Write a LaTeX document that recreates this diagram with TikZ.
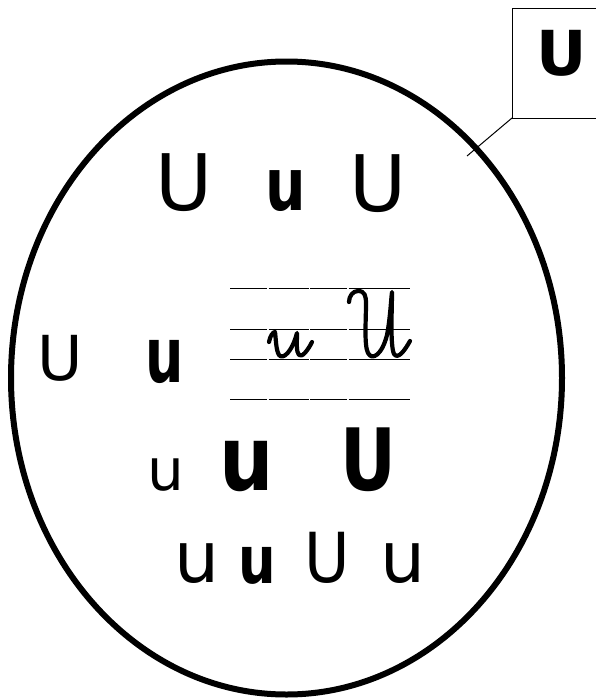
\documentclass[tikz,border=0pt]{standalone}
\usepackage{fontspec}
\setmainfont{DejaVu Sans}
\newcommand{\fsz}[1]{\fontsize{#1}{#1}\selectfont}
\begin{document}
\begin{tikzpicture}[x=1pt,y=-1pt,
  lt/.style={inner sep=0pt,anchor=base},
  cursive/.style={line width=4.2pt,line cap=round,line join=round},
  rule/.style={line width=1pt}]
\useasboundingbox (0,0) rectangle (595,699);
% outer ellipse
\draw[line width=6pt] (286.5,378) ellipse [x radius=275.5, y radius=316.5];
% label box
\coordinate (bx) at (512,118);
\coordinate (tip) at (467,156);
\draw[line width=1pt] (600,8) -- (512,8) -- (bx) -- (600,118);
\draw[line width=1pt] (bx) -- (tip);
\node[lt] (boxU) at (562,75) {\fsz{62}\bfseries U};
% top row
\node[lt] (t1) at (184,210) {\fsz{78}U};
\node[lt,xscale=0.78] (t2) at (286,210) {\fsz{73}\bfseries u};
\node[lt] (t3) at (378,211) {\fsz{78}U};
% middle row
\node[lt] (m1) at (60,380) {\fsz{62}U};
\node[lt,xscale=0.7] (m2) at (165,382) {\fsz{77}\bfseries u};
% lined area
\foreach \yy in {288,329,359,399}{
  \draw[rule] (230,\yy) -- (267,\yy);
  \draw[rule] (268.5,\yy) -- (308.5,\yy);
  \draw[rule] (310,\yy) -- (347,\yy);
  \draw[rule] (348.5,\yy) -- (410,\yy);
}
% cursive u
\draw[cursive] (269,342) .. controls (270,336) and (273,332) .. (275,332)
  .. controls (276,340) and (276,350) .. (279,355)
  .. controls (283,360) and (292,352) .. (297,333)
  .. controls (297,342) and (296,352) .. (299,355)
  .. controls (302,358) and (308,350) .. (312,342);
% cursive U
\draw[cursive] (349,302) .. controls (349,296) and (353,291) .. (358,291)
  .. controls (365,291) and (366,296) .. (366,304)
  .. controls (366,320) and (364,345) .. (368,353)
  .. controls (372,361) and (382,355) .. (387,335)
  .. controls (390,320) and (391,300) .. (392,292)
  .. controls (392,310) and (390,345) .. (394,354)
  .. controls (398,360) and (405,350) .. (410,341);
% third row
\node[lt] (r1) at (166,490) {\fsz{58}u};
\node[lt,xscale=0.85] (r2) at (247,490) {\fsz{90}\bfseries u};
\node[lt,xscale=0.8] (r3) at (368,490) {\fsz{86}\bfseries U};
% bottom row
\node[lt] (b1) at (197,582) {\fsz{71}u};
\node[lt,xscale=0.8] (b2) at (257,583) {\fsz{66}\bfseries u};
\node[lt,xscale=0.9] (b3) at (327,582) {\fsz{69}U};
\node[lt] (b4) at (403,582) {\fsz{71}u};
\end{tikzpicture}
\end{document}
